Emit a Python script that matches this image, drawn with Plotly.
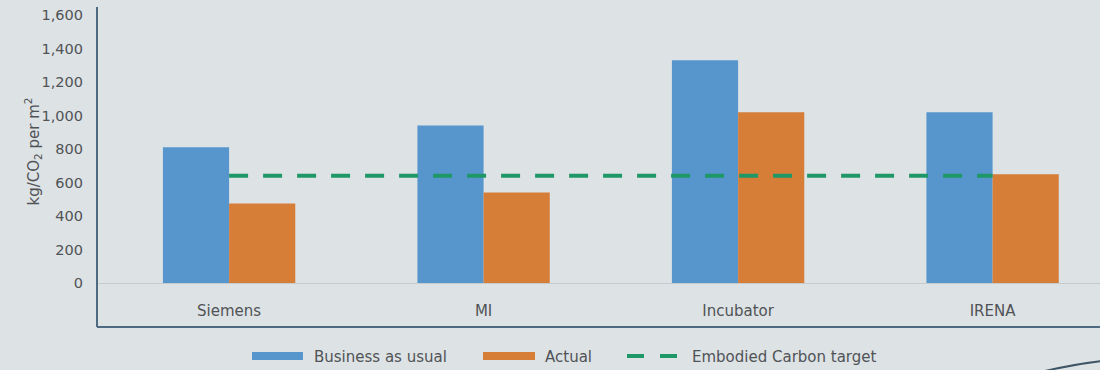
import plotly.graph_objects as go

# Embodied carbon per building (kg CO2 per m2)
buildings = ["Siemens", "MI", "Incubator", "IRENA"]
business_as_usual = [810, 940, 1330, 1020]
actual = [475, 540, 1020, 650]
carbon_target = [640, 640, 640, 640]
y_ticks = [0, 200, 400, 600, 800, 1000, 1200, 1400, 1600]

series_names = ["Business as usual", "Actual", "Embodied Carbon target"]

BLUE = "#5696cc"
ORANGE = "#d67d38"
GREEN = "#1f9868"
BG = "#dde2e5"
TEXT = "#505356"
FRAME = "#4d6a80"
FONT = "DejaVu Sans"

W, H = 1100, 370
M_L, M_R, M_T, M_B = 97, 0, 15, 87
PW, PH = W - M_L - M_R, H - M_T - M_B


def px(x):
    """Pixel x -> paper x."""
    return (x - M_L) / PW


def py(y):
    """Pixel y (from top) -> paper y."""
    return (H - M_B - y) / PH


fig = go.Figure()

fig.add_trace(go.Bar(
    x=buildings, y=business_as_usual, name=series_names[0],
    marker=dict(color=BLUE, line=dict(width=0)), showlegend=False,
))
fig.add_trace(go.Bar(
    x=buildings, y=actual, name=series_names[1],
    marker=dict(color=ORANGE, line=dict(width=0)), showlegend=False,
))
fig.add_trace(go.Scatter(
    x=buildings, y=carbon_target, name=series_names[2], mode="lines",
    line=dict(color=GREEN, width=4, dash="19px,15px"), showlegend=False,
))

shapes = [
    # chart frame (left and bottom edges)
    dict(type="line", xref="paper", yref="paper", x0=px(97), x1=px(97),
         y0=py(7), y1=py(327), line=dict(color=FRAME, width=2)),
    dict(type="line", xref="paper", yref="paper", x0=px(97), x1=px(1100),
         y0=py(327), y1=py(327), line=dict(color=FRAME, width=2)),
    # corner flourish
    dict(type="path", xref="paper", yref="paper",
         path=f"M {px(1045)},{py(371)} Q {px(1075)},{py(364)} {px(1102)},{py(361)}",
         line=dict(color="#3e5566", width=2)),
    # legend keys
    dict(type="rect", xref="paper", yref="paper", x0=px(252), x1=px(303),
         y0=py(352), y1=py(360), fillcolor=BLUE, line=dict(width=0)),
    dict(type="rect", xref="paper", yref="paper", x0=px(483), x1=px(535),
         y0=py(352), y1=py(360), fillcolor=ORANGE, line=dict(width=0)),
    dict(type="line", xref="paper", yref="paper", x0=px(627), x1=px(679),
         y0=py(356), y1=py(356), line=dict(color=GREEN, width=4, dash="17px,16px")),
]

annotations = [
    dict(text="kg/CO<sub>2</sub> per m<sup>2</sup>", xref="paper", yref="paper",
         x=px(20), y=py(152), textangle=-90, showarrow=False,
         font=dict(family=FONT, size=15, color=TEXT)),
]
for name, x0 in zip(series_names, [312, 543, 690]):
    annotations.append(dict(
        text=name, xref="paper", yref="paper", x=px(x0), y=py(357),
        xanchor="left", yanchor="middle", showarrow=False,
        font=dict(family=FONT, size=15, color=TEXT),
    ))

fig.update_layout(
    width=W, height=H,
    margin=dict(l=M_L, r=M_R, t=M_T, b=M_B, autoexpand=False),
    paper_bgcolor=BG, plot_bgcolor=BG,
    barmode="group", bargap=0.48, bargroupgap=0,
    font=dict(family=FONT, size=15, color=TEXT),
    shapes=shapes, annotations=annotations,
    showlegend=False,
)
fig.update_xaxes(
    range=[-0.519, 3.422], showgrid=False, zeroline=False, showline=False,
    ticks="", ticklabelstandoff=17, tickfont=dict(family=FONT, size=15, color=TEXT),
)
fig.update_yaxes(
    range=[0, 1600], tickvals=y_ticks, tickformat=",", showgrid=False,
    zeroline=True, zerolinecolor="#c5cacd", zerolinewidth=1, showline=False,
    ticks="", ticklabelstandoff=13, tickfont=dict(family=FONT, size=14.5, color=TEXT),
)

fig.write_html("out.html")
